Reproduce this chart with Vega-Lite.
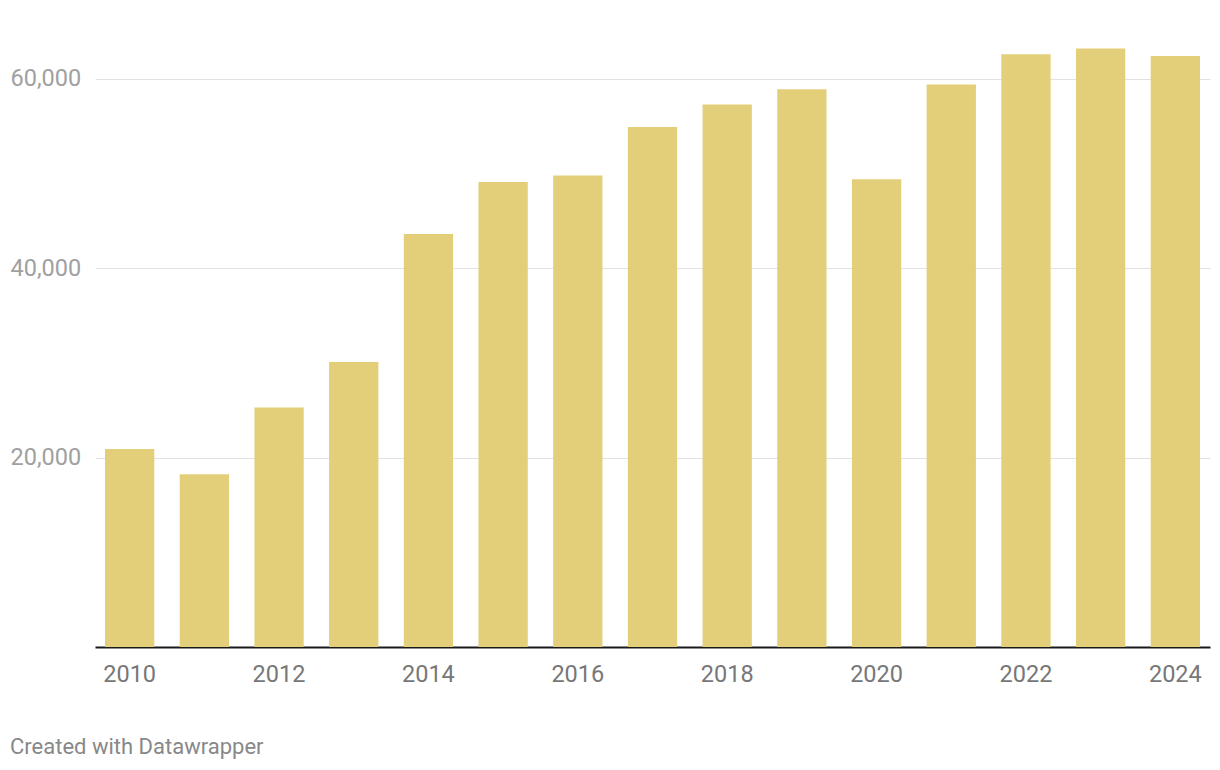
{
  "$schema": "https://vega.github.io/schema/vega-lite/v6.json",
  "width": 1115,
  "height": 625,
  "autosize": {"type": "none"},
  "padding": {"left": 95, "top": 22, "right": 10, "bottom": 123},
  "background": "white",
  "title": {
    "text": "Created with Datawrapper",
    "orient": "bottom",
    "anchor": "start",
    "frame": "group",
    "dx": -85,
    "offset": 51,
    "font": "Roboto",
    "fontSize": 22,
    "fontWeight": "normal",
    "color": "#888888"
  },
  "data": {
    "values": [
      {"year": "2010", "value": 20900},
      {"year": "2011", "value": 18250},
      {"year": "2012", "value": 25300},
      {"year": "2013", "value": 30100},
      {"year": "2014", "value": 43600},
      {"year": "2015", "value": 49100},
      {"year": "2016", "value": 49800},
      {"year": "2017", "value": 54900},
      {"year": "2018", "value": 57300},
      {"year": "2019", "value": 58900},
      {"year": "2020", "value": 49400},
      {"year": "2021", "value": 59400},
      {"year": "2022", "value": 62600},
      {"year": "2023", "value": 63200},
      {"year": "2024", "value": 62400}
    ]
  },
  "mark": {"type": "bar", "color": "#e3cf79"},
  "encoding": {
    "x": {
      "field": "year",
      "type": "ordinal",
      "scale": {"paddingInner": 0.34, "paddingOuter": 0.134},
      "axis": {
        "title": null,
        "values": ["2010", "2012", "2014", "2016", "2018", "2020", "2022", "2024"],
        "labelAngle": 0,
        "labelFont": "Roboto",
        "labelFontSize": 23.5,
        "labelColor": "#777777",
        "labelPadding": 15,
        "ticks": false,
        "tickSize": 0,
        "domainColor": "#1a1a1a",
        "domainWidth": 2,
        "grid": false
      }
    },
    "y": {
      "field": "value",
      "type": "quantitative",
      "scale": {"domain": [0, 66000], "nice": false},
      "axis": {
        "title": null,
        "values": [20000, 40000, 60000],
        "format": ",d",
        "labelAlign": "left",
        "labelBaseline": "middle",
        "labelPadding": 85,
        "ticks": false,
        "tickSize": 0,
        "domain": false,
        "grid": true,
        "gridColor": "#e2e2e2",
        "gridWidth": 1,
        "labelFont": "Roboto",
        "labelFontSize": 23.5,
        "labelColor": "#a0a0a0"
      }
    }
  },
  "config": {
    "view": {"stroke": null},
    "axis": {"zindex": 0}
  }
}
